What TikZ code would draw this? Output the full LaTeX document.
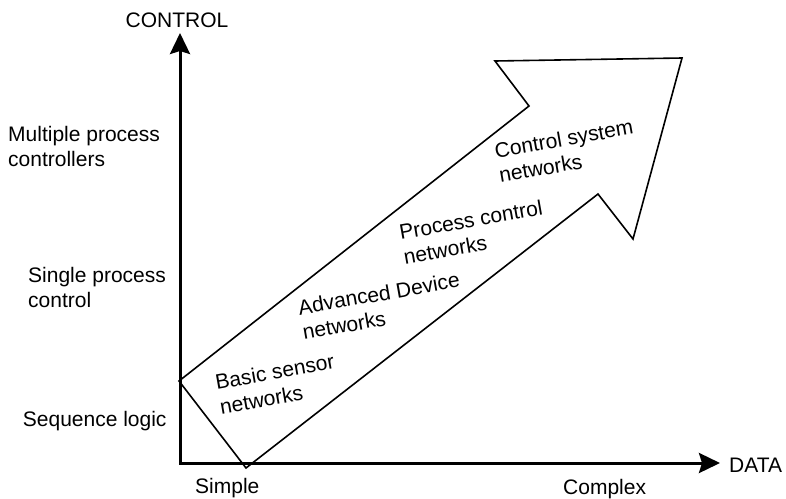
\documentclass[tikz,border=0pt]{standalone}
\usepackage{fontspec}
\setmainfont{Liberation Sans}
\usetikzlibrary{arrows.meta}
\begin{document}
\begin{tikzpicture}[x=1pt,y=-1pt,
  lbl/.style={font=\fontsize{21}{25}\selectfont, inner sep=0pt},
  ml/.style={lbl, align=left},
  band/.style={ml, rotate=10},
  axis/.style={line width=3pt, {Stealth[length=21pt,width=20pt,inset=3pt]}-{Stealth[length=21pt,width=20pt,inset=3pt]}},
  bigarrow/.style={line width=1.6pt, line join=miter}]
\useasboundingbox (0,0) rectangle (786,498);
% big arrow
\coordinate (A) at (179,381);
\coordinate (B) at (529,106);
\coordinate (C) at (495,61);
\coordinate (D) at (682,58);
\coordinate (E) at (633,239);
\coordinate (F) at (598,194);
\coordinate (G) at (246,468);
\draw[bigarrow] (A) -- (B) -- (C) -- (D) -- (E) -- (F) -- (G) -- cycle;
% axes
\coordinate (O) at (180,463);
\coordinate (Ytop) at (180,33);
\coordinate (Xend) at (720,463);
\draw[axis] (Ytop) -- (O) -- (Xend);
% labels
\node[lbl, anchor=base] (control) at (177,27) {CONTROL};
\node[lbl, anchor=base west] (data) at (729,472) {DATA};
\node[ml, anchor=north west] (mpc) at (8,125.7) {Multiple process\\controllers};
\node[ml, anchor=north west] (spc) at (28,266.7) {Single process\\control};
\node[lbl, anchor=base west] (seq) at (22.7,426) {Sequence logic};
\node[lbl, anchor=base west] (simple) at (195,493) {Simple};
\node[lbl, anchor=base west] (complex) at (563,494) {Complex};
\node[band] (bsn) at (277,384) {Basic sensor\\networks};
\node[band] (adn) at (381,306) {Advanced Device\\networks};
\node[band] (pcn) at (473,232) {Process control\\networks};
\node[band] (csn) at (566,151) {Control system\\networks};
\end{tikzpicture}
\end{document}
